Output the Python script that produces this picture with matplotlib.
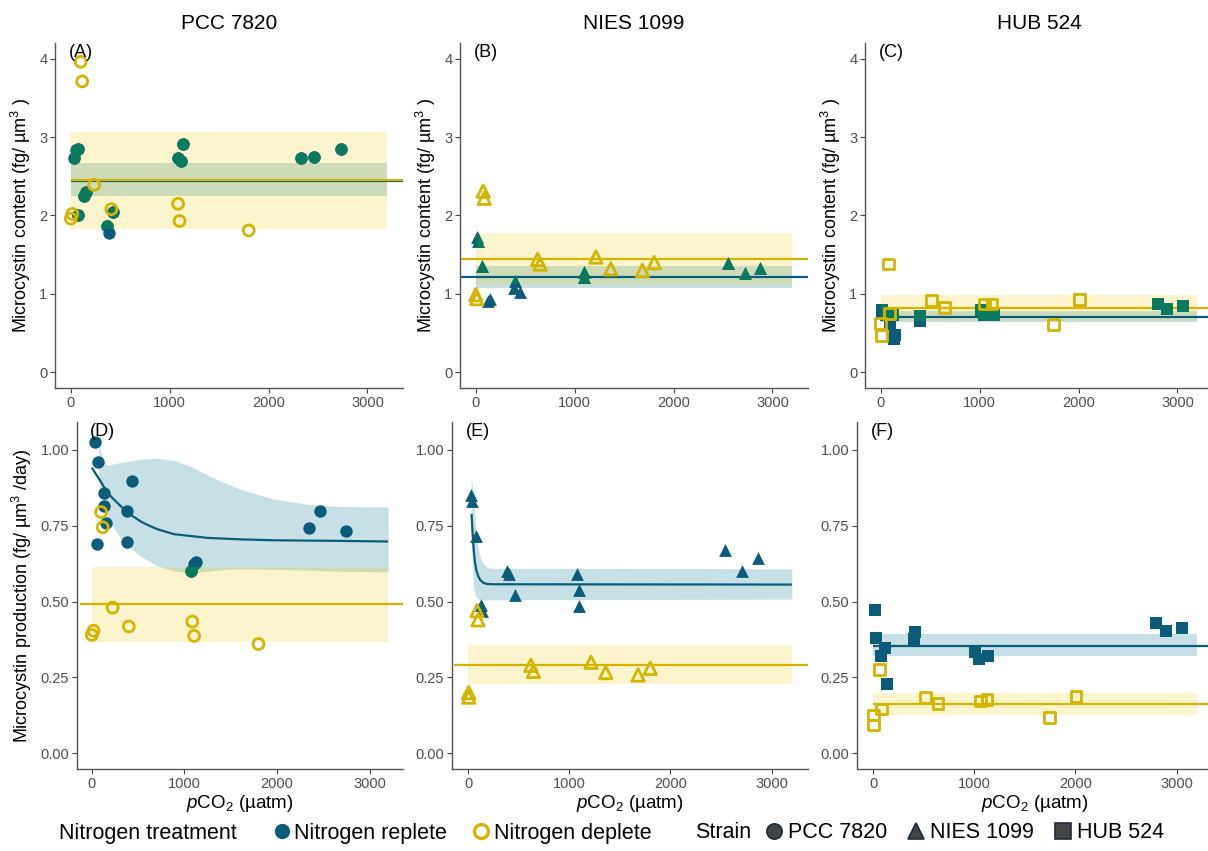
import numpy as np
import matplotlib
matplotlib.use('Agg')
import matplotlib.pyplot as plt
from matplotlib.lines import Line2D
from matplotlib.ticker import FormatStrFormatter

plt.rcParams['font.family'] = ['Liberation Sans', 'DejaVu Sans']
plt.rcParams['mathtext.fontset'] = 'custom'
plt.rcParams['mathtext.rm'] = 'Liberation Sans'
plt.rcParams['mathtext.it'] = 'Liberation Sans:italic'

BLUE = '#0B5C7A'
GREEN = '#0A7A5E'
GOLD = '#D4B400'
YFILL = '#EDC800'
BFILL = '#0B7A95'

# ---------------- data ----------------
strains = ['PCC 7820', 'NIES 1099', 'HUB 524']
panel_tags = ['(A)', '(B)', '(C)', '(D)', '(E)', '(F)']
band_x = [0, 3200]

# (A) PCC 7820 content
A_rep_x = [30, 55, 70, 75, 130, 150, 370, 390, 430, 1080, 1110, 1130, 2330, 2460, 2730]
A_rep_y = [2.73, 2.83, 2.85, 2.01, 2.25, 2.30, 1.87, 1.78, 2.05, 2.73, 2.69, 2.91, 2.73, 2.75, 2.85]
A_dep_x = [100, 115, 0, 15, 235, 410, 1085, 1100, 1800]
A_dep_y = [3.96, 3.71, 1.96, 2.02, 2.39, 2.08, 2.15, 1.93, 1.81]
A_rep_mean, A_rep_lo, A_rep_hi = 2.44, 2.25, 2.67
A_dep_mean, A_dep_lo, A_dep_hi = 2.455, 1.83, 3.07

# (B) NIES 1099 content
B_rep_x = [10, 25, 65, 120, 145, 400, 390, 450, 1090, 1095, 2550, 2720, 2870]
B_rep_y = [1.72, 1.67, 1.36, 0.91, 0.93, 1.16, 1.08, 1.03, 1.28, 1.21, 1.40, 1.27, 1.33]
B_dep_x = [75, 85, 0, 10, 625, 650, 1215, 1365, 1685, 1805]
B_dep_y = [2.31, 2.22, 0.99, 0.94, 1.44, 1.38, 1.47, 1.32, 1.30, 1.40]
B_rep_mean, B_rep_lo, B_rep_hi = 1.22, 1.07, 1.36
B_dep_mean, B_dep_lo, B_dep_hi = 1.45, 1.12, 1.78

# (C) HUB 524 content
C_rep_x = [15, 10, 95, 140, 135, 50, 120, 400, 400, 1010, 1040, 1140, 2805, 2890, 3055]
C_rep_y = [0.80, 0.77, 0.61, 0.47, 0.43, 0.73, 0.73, 0.72, 0.66, 0.79, 0.73, 0.73, 0.87, 0.81, 0.85]
C_dep_x = [75, 0, 10, 90, 515, 645, 1050, 1125, 1745, 2010]
C_dep_y = [1.38, 0.62, 0.47, 0.75, 0.92, 0.83, 0.87, 0.87, 0.61, 0.93]
C_rep_mean, C_rep_lo, C_rep_hi = 0.71, 0.64, 0.78
C_dep_mean, C_dep_lo, C_dep_hi = 0.825, 0.66, 0.99

# (D) PCC 7820 production
D_rep_x = [30, 65, 57, 135, 133, 155, 375, 430, 385, 1075, 1100, 1130, 2350, 2465, 2740]
D_rep_y = [1.025, 0.96, 0.69, 0.857, 0.815, 0.76, 0.80, 0.897, 0.695, 0.60, 0.624, 0.63, 0.744, 0.80, 0.733]
D_dep_x = [100, 118, 18, 0, 225, 400, 1085, 1105, 1800]
D_dep_y = [0.795, 0.745, 0.404, 0.39, 0.48, 0.418, 0.434, 0.387, 0.36]
D_dep_mean, D_dep_lo, D_dep_hi = 0.491, 0.368, 0.615
D_fit_x = [0, 40, 86, 130, 176, 260, 355, 440, 534, 620, 713, 892, 1250, 1609, 1968, 2684, 3200]
D_fit_y = [0.942, 0.922, 0.901, 0.878, 0.856, 0.830, 0.802, 0.782, 0.763, 0.750, 0.738, 0.722,
           0.710, 0.705, 0.702, 0.700, 0.698]
D_rib_x = [75, 110, 150, 176, 355, 534, 713, 892, 1072, 1250, 1430, 1609, 1788, 1968, 2326, 2684, 3200]
D_rib_hi = [1.03, 0.977, 0.952, 0.950, 0.961, 0.970, 0.972, 0.965, 0.945, 0.917, 0.892, 0.870,
            0.853, 0.838, 0.821, 0.813, 0.812]
D_rib_lo = [0.90, 0.84, 0.79, 0.769, 0.692, 0.648, 0.617, 0.601, 0.595, 0.600, 0.606, 0.608,
            0.607, 0.606, 0.604, 0.600, 0.598]

# (E) NIES 1099 production
E_rep_x = [25, 33, 80, 130, 140, 385, 400, 460, 1080, 1100, 1100, 2540, 2705, 2870]
E_rep_y = [0.85, 0.83, 0.715, 0.49, 0.47, 0.60, 0.59, 0.522, 0.59, 0.538, 0.484, 0.67, 0.60, 0.645]
E_dep_x = [5, 5, 88, 98, 620, 645, 1215, 1360, 1680, 1800]
E_dep_y = [0.20, 0.185, 0.47, 0.44, 0.29, 0.27, 0.30, 0.266, 0.258, 0.28]
E_dep_mean, E_dep_lo, E_dep_hi = 0.291, 0.227, 0.357
E_fit_x = [33, 45, 55, 67, 80, 100, 120, 150, 185, 250, 400, 3200]
E_fit_y = [0.789, 0.72, 0.67, 0.63, 0.604, 0.583, 0.571, 0.562, 0.558, 0.557, 0.557, 0.556]
E_rib_x = [30, 45, 55, 67, 80, 100, 120, 150, 185, 220, 3200]
E_rib_hi = [0.91, 0.87, 0.835, 0.78, 0.725, 0.675, 0.645, 0.625, 0.615, 0.61, 0.608]
E_rib_lo = [0.70, 0.60, 0.545, 0.525, 0.516, 0.51, 0.507, 0.505, 0.505, 0.506, 0.508]

# (F) HUB 524 production
F_rep_x = [15, 30, 80, 120, 140, 400, 418, 1003, 1043, 1135, 2800, 2895, 3055]
F_rep_y = [0.473, 0.38, 0.32, 0.346, 0.228, 0.376, 0.40, 0.335, 0.31, 0.322, 0.429, 0.404, 0.412]
F_dep_x = [65, 0, 0, 82, 515, 640, 1060, 1125, 1745, 2005]
F_dep_y = [0.277, 0.126, 0.093, 0.146, 0.184, 0.165, 0.172, 0.176, 0.119, 0.187]
F_rep_mean, F_rep_lo, F_rep_hi = 0.355, 0.319, 0.392
F_dep_mean, F_dep_lo, F_dep_hi = 0.162, 0.126, 0.198

# ---------------- layout ----------------
W, H = 1208, 851
fig = plt.figure(figsize=(W / 100, H / 100), dpi=100)


def px_axes(left, top, right, bottom):
    return fig.add_axes([left / W, 1 - bottom / H, (right - left) / W, (bottom - top) / H])


axA = px_axes(55, 43, 403, 388)
axB = px_axes(460, 43, 808, 388)
axC = px_axes(865, 43, 1213, 388)
axD = px_axes(77, 422, 403, 769)
axE = px_axes(452, 422, 808, 769)
axF = px_axes(857, 422, 1213, 769)

markers = ['o', '^', 's']
msize = {'o': 80, '^': 85, 's': 68}
hsize = {'o': 62, '^': 80, 's': 60}


def style(ax, top):
    for s in ['top', 'right']:
        ax.spines[s].set_visible(False)
    for s in ['left', 'bottom']:
        ax.spines[s].set_color('#555555')
        ax.spines[s].set_linewidth(1.0)
    ax.tick_params(direction='out', length=3.5, width=0.8, color='#444444',
                   labelcolor='#4D4D4D', labelsize=10.5, pad=2)
    ax.set_xlim(-160, 3360)
    ax.set_xticks([0, 1000, 2000, 3000])
    if top:
        ax.set_ylim(-0.2, 4.2)
        ax.set_yticks([0, 1, 2, 3, 4])
    else:
        ax.set_ylim(-0.052, 1.092)
        ax.set_yticks([0, 0.25, 0.5, 0.75, 1.0])
        ax.yaxis.set_major_formatter(FormatStrFormatter('%.2f'))


def draw(ax, mk, rep_x, rep_y, dep_x, dep_y, dep_stats, rep_stats=None,
         fit=None, rib=None, line_x0=0):
    # ribbons
    if rep_stats is not None:
        ax.fill_between(band_x, rep_stats[1], rep_stats[2], color=BFILL, alpha=0.23,
                        lw=0, zorder=1)
    if rib is not None:
        ax.fill_between(rib[0], rib[1], rib[2], color=BFILL, alpha=0.23, lw=0, zorder=1)
    ypoly = ax.fill_between(band_x, dep_stats[1], dep_stats[2], color=YFILL, alpha=0.2,
                            lw=0, zorder=1.2)
    # lines
    if rep_stats is not None:
        ax.hlines(rep_stats[0], line_x0, 3500, color=BLUE, lw=1.6, zorder=1.5)
    if fit is not None:
        ax.plot(fit[0], fit[1], color=BLUE, lw=1.6, zorder=1.5, solid_capstyle='butt')
    ax.hlines(dep_stats[0], line_x0, 3500, color=GOLD, lw=1.6, zorder=1.6)
    # replete points (blue), tinted green where they sit in the N-deplete band
    ax.scatter(rep_x, rep_y, marker=mk, s=msize[mk], color=BLUE, lw=0, zorder=2)
    sg = ax.scatter(rep_x, rep_y, marker=mk, s=msize[mk], color=GREEN, lw=0, zorder=2.1)
    path = ypoly.get_paths()[0]
    sg.set_clip_path(path, ypoly.get_transform())
    # deplete points (hollow gold)
    ax.scatter(dep_x, dep_y, marker=mk, s=hsize[mk], facecolor='none', edgecolor=GOLD,
               lw=2.0, zorder=3)


draw(axA, 'o', A_rep_x, A_rep_y, A_dep_x, A_dep_y,
     (A_dep_mean, A_dep_lo, A_dep_hi), (A_rep_mean, A_rep_lo, A_rep_hi))
draw(axB, '^', B_rep_x, B_rep_y, B_dep_x, B_dep_y,
     (B_dep_mean, B_dep_lo, B_dep_hi), (B_rep_mean, B_rep_lo, B_rep_hi), line_x0=-160)
draw(axC, 's', C_rep_x, C_rep_y, C_dep_x, C_dep_y,
     (C_dep_mean, C_dep_lo, C_dep_hi), (C_rep_mean, C_rep_lo, C_rep_hi))
draw(axD, 'o', D_rep_x, D_rep_y, D_dep_x, D_dep_y,
     (D_dep_mean, D_dep_lo, D_dep_hi), fit=(D_fit_x, D_fit_y),
     rib=(D_rib_x, D_rib_lo, D_rib_hi), line_x0=-130)
draw(axE, '^', E_rep_x, E_rep_y, E_dep_x, E_dep_y,
     (E_dep_mean, E_dep_lo, E_dep_hi), fit=(E_fit_x, E_fit_y),
     rib=(E_rib_x, E_rib_lo, E_rib_hi), line_x0=-140)
draw(axF, 's', F_rep_x, F_rep_y, F_dep_x, F_dep_y,
     (F_dep_mean, F_dep_lo, F_dep_hi), (F_rep_mean, F_rep_lo, F_rep_hi))

axes = [axA, axB, axC, axD, axE, axF]
for i, ax in enumerate(axes):
    style(ax, i < 3)
    ax.text(0.04, 0.972, panel_tags[i], transform=ax.transAxes, fontsize=13,
            ha='left', va='center', color='black', zorder=5)

for ax, name in zip([axA, axB, axC], strains):
    ax.set_title(name, fontsize=15, pad=10)

ylab_top = 'Microcystin content (fg/ µm$^{3}$ )'
for ax in [axA, axB, axC]:
    ax.set_ylabel(ylab_top, fontsize=13)
    ax.yaxis.set_label_coords(-0.064, 0.5)
axD.set_ylabel('Microcystin production (fg/ µm$^{3}$ /day)', fontsize=13)
axD.yaxis.set_label_coords(-0.133, 0.5)

for ax in [axD, axE, axF]:
    ax.set_xlabel('$\\it{p}$CO$_{2}$ (µatm)', fontsize=13.5)
    ax.xaxis.set_label_coords(0.5, -0.068)

# ---------------- legend ----------------
ly = 1 - 833 / H
fig.text(59 / W, ly, 'Nitrogen treatment', fontsize=15.5, ha='left', va='center')
nh = [Line2D([], [], ls='none', marker='o', markersize=11, color=BLUE, mew=0),
      Line2D([], [], ls='none', marker='o', markersize=10, markerfacecolor='none',
             markeredgecolor=GOLD, mew=2.4)]
fig.legend(nh, ['Nitrogen replete', 'Nitrogen deplete'], ncol=2,
           loc='center left', bbox_to_anchor=(274 / W, ly), frameon=False,
           fontsize=15.5, handlelength=0.7, handletextpad=0.25,
           columnspacing=1.2, borderpad=0, borderaxespad=0)
fig.text(695 / W, ly, 'Strain', fontsize=15.5, ha='left', va='center')
sh = [Line2D([], [], ls='none', marker=m, markersize=ms, markerfacecolor='#444444',
             markeredgecolor='#1C2B3A', mew=1.2)
      for m, ms in zip(markers, [11, 12, 11])]
fig.legend(sh, strains, ncol=3, loc='center left', bbox_to_anchor=(766 / W, ly),
           frameon=False, fontsize=15.5, handlelength=0.7, handletextpad=0.3,
           columnspacing=1.0, borderpad=0, borderaxespad=0)

fig.savefig('out.png', dpi=100)
